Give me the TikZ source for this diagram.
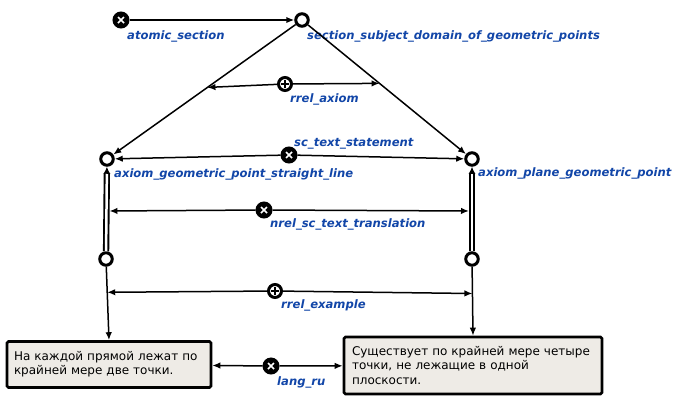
\documentclass[tikz,border=0pt]{standalone}
\usepackage{fontspec}
\setmainfont{DejaVu Sans}
\usetikzlibrary{arrows.meta,calc}
\definecolor{sclabelblue}{RGB}{18,70,168}
\definecolor{scboxfill}{RGB}{238,235,230}
\tikzset{
  scnode/.style={circle, draw, line width=3pt, fill=white, minimum size=12.5pt, inner sep=0pt},
  sccross/.style={circle, draw, line width=1pt, fill=black, minimum size=16pt, inner sep=0pt,
    path picture={\draw[white, line width=1.5pt]
      ([shift={(-3pt,-3pt)}]path picture bounding box.center) -- ([shift={(3pt,3pt)}]path picture bounding box.center)
      ([shift={(-3pt,3pt)}]path picture bounding box.center) -- ([shift={(3pt,-3pt)}]path picture bounding box.center);}},
  scplus/.style={circle, draw, line width=3pt, fill=white, minimum size=13pt, inner sep=0pt,
    path picture={\draw[black, line width=1.4pt]
      ([shift={(-4pt,0pt)}]path picture bounding box.center) -- ([shift={(4pt,0pt)}]path picture bounding box.center)
      ([shift={(0pt,-4pt)}]path picture bounding box.center) -- ([shift={(0pt,4pt)}]path picture bounding box.center);}},
  sclabel/.style={anchor=base west, inner sep=0pt, text=sclabelblue,
    font=\fontsize{11.6}{13}\selectfont\bfseries\itshape},
  scarc/.style={line width=1.5pt, -{Latex[length=8pt,width=6.5pt]}},
  scdouble/.style={double, double distance=2.5pt, line width=1.9pt, -{Latex[length=7pt,width=7pt]}},
  scbox/.style={draw, line width=2.6pt, fill=scboxfill, rounded corners=1.5pt, align=left,
    font=\fontsize{12}{14.2}\selectfont,
    path picture={\fill (path picture bounding box.north west) -- ++(9pt,0pt) -- ++(-9pt,-9pt) -- cycle;}}
}
\begin{document}
\begin{tikzpicture}[x=1pt, y=-1pt]
  \useasboundingbox (0,0) rectangle (682,402);

  % Section and its axioms
  \node[sccross] (atomic) at (121,20) {};
  \node[scnode] (sec) at (302,20) {};
  \node[scnode] (agp) at (107,159) {};
  \node[scnode] (apgp) at (472,159) {};
  \node[scnode] (lowl) at (106,259) {};
  \node[scnode] (lowr) at (472,259) {};

  % Relation nodes
  \node[scplus] (axiom) at (285,84) {};
  \node[sccross] (stmt) at (289,155) {};
  \node[sccross] (trans) at (264,210) {};
  \node[scplus] (example) at (275,291) {};
  \node[sccross] (langru) at (271,366) {};

  % Texts
  \node[scbox, minimum width=204pt, minimum height=46pt, text width=190pt, inner xsep=7pt] (box1) at (109,364.5)
    {На каждой прямой лежат по\\крайней мере две точки.};
  \node[scbox, minimum width=258pt, minimum height=57pt, text width=242pt, inner xsep=8pt] (box2) at (473,365.5)
    {Существует по крайней мере четыре\\точки, не лежащие в одной\\плоскости.};

  % Labels
  \node[sclabel] (l_atomic) at (127,39) {atomic\_section};
  \node[sclabel] (l_sec) at (307,39) {section\_subject\_domain\_of\_geometric\_points};
  \node[sclabel] (l_axiom) at (290,102) {rrel\_axiom};
  \node[sclabel] (l_stmt) at (294,146) {sc\_text\_statement};
  \node[sclabel] (l_agp) at (114,177) {axiom\_geometric\_point\_straight\_line};
  \node[sclabel] (l_apgp) at (478,176) {axiom\_plane\_geometric\_point};
  \node[sclabel] (l_trans) at (270,227) {nrel\_sc\_text\_translation};
  \node[sclabel] (l_example) at (281,308) {rrel\_example};
  \node[sclabel] (l_langru) at (277,385) {lang\_ru};

  % Arcs
  \draw[scarc] (atomic) -- (sec);
  \draw[scarc] (sec) -- (agp);
  \draw[scarc] (sec) -- (apgp);
  \coordinate (ax_l) at ($(sec)!0.485!(agp)$);
  \coordinate (ax_r) at ($(sec)!0.456!(apgp)$);
  \draw[scarc] (axiom) -- (ax_l);
  \draw[scarc] (axiom) -- (ax_r);
  \draw[scarc] (stmt) -- (agp);
  \draw[scarc] (stmt) -- (apgp);

  % Translations
  \draw[scdouble] (lowl) -- (agp);
  \draw[scdouble] (lowr) -- (apgp);
  \coordinate (tr_l) at ($(lowl)!0.48!(agp)$);
  \coordinate (tr_r) at ($(lowr)!0.48!(apgp)$);
  \draw[scarc, shorten >=3pt] (trans) -- (tr_l);
  \draw[scarc, shorten >=3pt] (trans) -- (tr_r);

  % Examples
  \draw[scarc] (lowl) -- (box1.north);
  \draw[scarc] (lowr) -- (box2.north);
  \coordinate (ex_l) at ($(lowl)!0.41!(box1.north)$);
  \coordinate (ex_r) at ($(lowr)!0.45!(box2.north)$);
  \draw[scarc] (example) -- (ex_l);
  \draw[scarc] (example) -- (ex_r);
  \draw[scarc] (langru) -- (box1);
  \draw[scarc] (langru) -- (box2);
\end{tikzpicture}
\end{document}
